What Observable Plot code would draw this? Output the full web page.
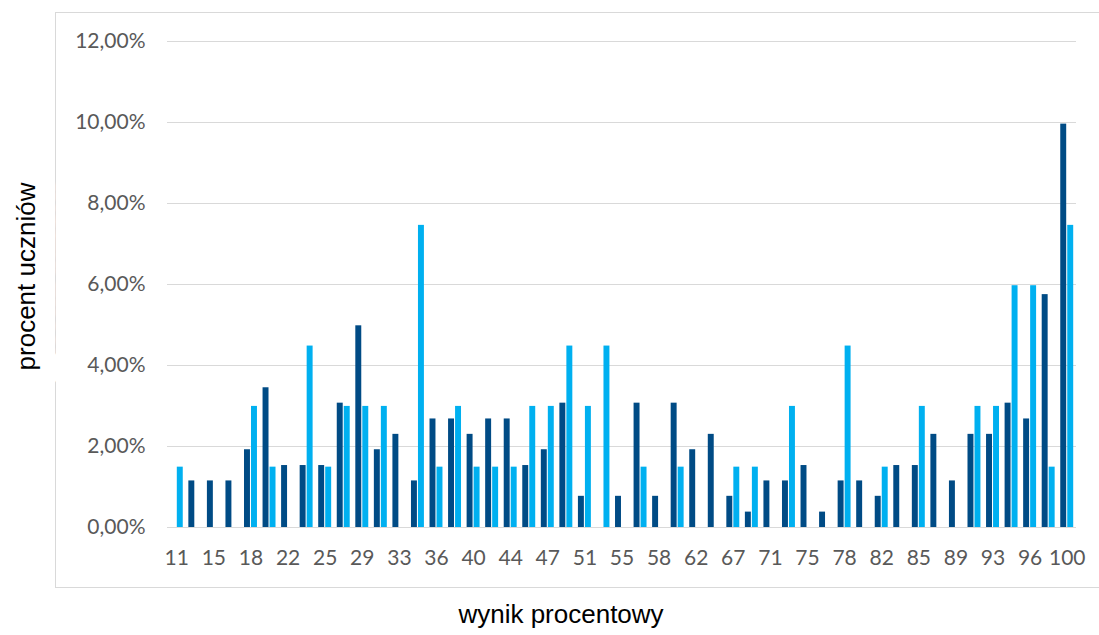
<!DOCTYPE html>
<html>
<head>
<meta charset="utf-8">
<script src="https://cdn.jsdelivr.net/npm/d3@7"></script>
<script src="https://cdn.jsdelivr.net/npm/@observablehq/plot@0.6"></script>
<style>
  html, body { margin: 0; padding: 0; background: #fff; }
  #wrap { position: relative; width: 1099px; height: 635px; overflow: hidden; }
  #box { position: absolute; left: 55px; top: 12px; width: 1070px; height: 576px; border: 1px solid #d9d9d9; box-sizing: border-box; }
  #chart { position: absolute; left: 0; top: 0; }
</style>
</head>
<body>
<div id="wrap"><div id="box"></div><div id="chart"></div></div>
<script>
// Categories (wynik procentowy) — every other one is labelled on the axis
const categories = ["11","13","15","17","18","20","22","24","25","28",
  "29","31","33","35","36","39","40","43","44","46",
  "47","50","51","54","55","57","58","60","62","65",
  "67","69","71","73","75","76","78","80","82","83",
  "85","87","89","91","93","94","96","98","100"];

// Dark blue series (% of students)
const seriesDark = [0, 1.15, 1.15, 1.15, 1.92, 3.45, 1.53, 1.53, 1.53, 3.07,
  4.98, 1.92, 2.30, 1.15, 2.68, 2.68, 2.30, 2.68, 2.68, 1.53,
  1.92, 3.07, 0.77, 0, 0.77, 3.07, 0.77, 3.07, 1.92, 2.30,
  0.77, 0.38, 1.15, 1.15, 1.53, 0.38, 1.15, 1.15, 0.77, 1.53,
  1.53, 2.30, 1.15, 2.30, 2.30, 3.07, 2.68, 5.75, 9.96];

// Light blue series (% of students)
const seriesLight = [1.49, 0, 0, 0, 2.99, 1.49, 0, 4.48, 1.49, 2.99,
  2.99, 2.99, 0, 7.46, 1.49, 2.99, 1.49, 1.49, 1.49, 2.99,
  2.99, 4.48, 2.99, 4.48, 0, 1.49, 0, 1.49, 0, 0,
  1.49, 1.49, 0, 2.99, 0, 0, 4.48, 0, 1.49, 0,
  2.99, 0, 0, 2.99, 2.99, 5.97, 5.97, 1.49, 7.46];

const yTicks = [0, 2, 4, 6, 8, 10, 12];
const xTickLabels = categories.filter((d, i) => i % 2 === 0);

const yTitle = "procent uczniów";
const xTitle = "wynik procentowy";

const DARK = "#004b85";
const LIGHT = "#00b0f0";

const darkRows = categories.map((c, i) => ({cat: c, value: seriesDark[i]})).filter(d => d.value > 0);
const lightRows = categories.map((c, i) => ({cat: c, value: seriesLight[i]})).filter(d => d.value > 0);

const chart = Plot.plot({
  width: 1099,
  height: 635,
  marginLeft: 167,
  marginRight: 23,
  marginTop: 41,
  marginBottom: 108,
  style: {background: "transparent", fontFamily: "Lato, 'Open Sans', sans-serif", fontSize: "21px", color: "#595959", overflow: "visible"},
  x: {type: "band", domain: categories, padding: 0, round: false, label: null},
  y: {domain: [0, 12], label: null},
  marks: [
    Plot.gridY(yTicks, {stroke: "#d9d9d9", strokeOpacity: 1, strokeWidth: 1.2}),
    Plot.barY(darkRows, {x: "cat", y: "value", fill: DARK, insetLeft: 2.8, insetRight: 9.8}),
    Plot.barY(lightRows, {x: "cat", y: "value", fill: LIGHT, insetLeft: 9.8, insetRight: 2.8}),
    Plot.axisX(xTickLabels, {tickSize: 0, tickPadding: 23, label: null}),
    Plot.axisY(yTicks, {tickSize: 0, tickPadding: 22, label: null,
      tickFormat: d => d.toFixed(2).replace(".", ",") + "%"}),
    Plot.text([yTitle], {text: d => d, frameAnchor: "left", textAnchor: "middle", rotate: -90, dx: -141, dy: -8,
      fontSize: 26, fontFamily: "'Liberation Sans', Arial, sans-serif", fill: "#000",
      stroke: "white", strokeWidth: 40}),
    Plot.text([xTitle], {text: d => d, frameAnchor: "bottom", textAnchor: "middle", dx: -61, dy: 95,
      fontSize: 26, fontFamily: "'Liberation Sans', Arial, sans-serif", fill: "#000"})
  ]
});
document.getElementById("chart").appendChild(chart);
</script>
</body>
</html>
